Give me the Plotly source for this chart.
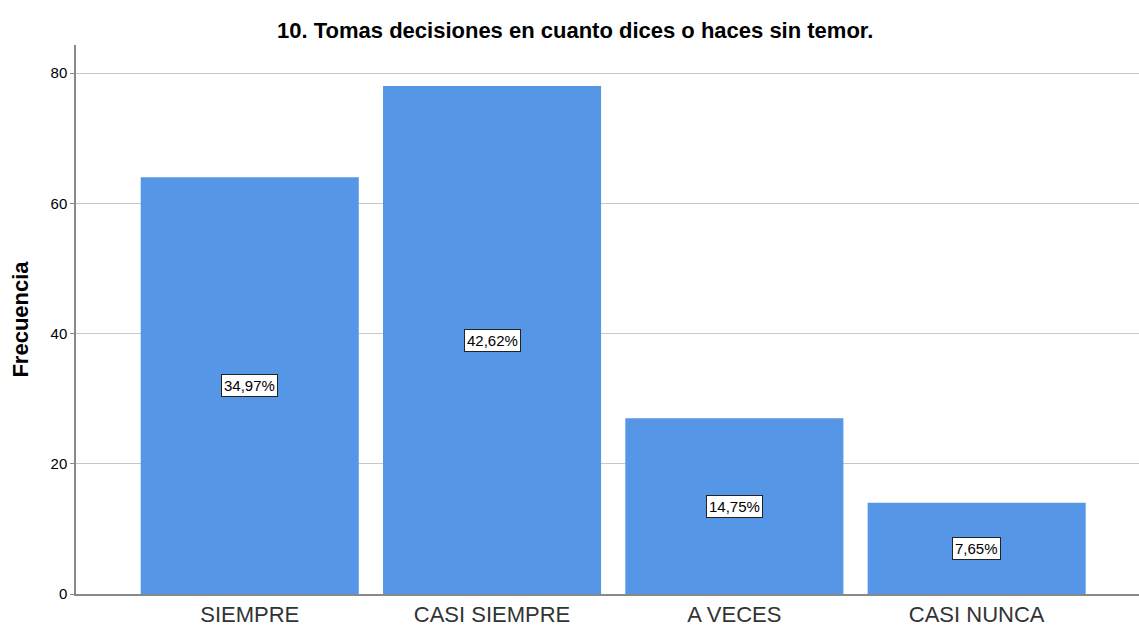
import plotly.graph_objects as go

categories = ["SIEMPRE", "CASI SIEMPRE", "A VECES", "CASI NUNCA"]
frecuencia = [64, 78, 27, 14]
porcentajes = ["34,97%", "42,62%", "14,75%", "7,65%"]

bar_color = "#5596E6"
font_family = "Arial, Liberation Sans"

fig = go.Figure()
fig.add_trace(go.Bar(
    x=list(range(len(categories))),
    y=frecuencia,
    width=0.9,
    marker=dict(color=bar_color, line=dict(width=0)),
    hoverinfo="skip",
))

# Percentage labels boxed at the middle of each bar
for i, (v, p) in enumerate(zip(frecuencia, porcentajes)):
    fig.add_annotation(
        x=i, y=v / 2, text=p, showarrow=False,
        font=dict(family=font_family, size=15, color="#000000"),
        bgcolor="#FFFFFF", bordercolor="#222222", borderwidth=1, borderpad=2,
    )

fig.update_layout(
    width=1139, height=626,
    margin=dict(l=76, r=0, t=45, b=32),
    plot_bgcolor="#FFFFFF", paper_bgcolor="#FFFFFF",
    showlegend=False,
    title=dict(
        text="<b>10. Tomas decisiones en cuanto dices o haces sin temor.</b>",
        x=0.505, xanchor="center", xref="container", y=0.952, yanchor="middle",
        font=dict(family=font_family, size=22, color="#000000"),
    ),
    xaxis=dict(
        range=[-0.717, 3.67],
        tickmode="array", tickvals=list(range(len(categories))), ticktext=categories,
        showgrid=False, showline=True, linecolor="#888888", linewidth=1.5,
        ticks="", tickfont=dict(family=font_family, size=22, color="#333333"),
        zeroline=False,
    ),
    yaxis=dict(
        range=[0, 84.3],
        tickvals=[0, 20, 40, 60, 80],
        showgrid=True, gridcolor="#C8C8C8", gridwidth=1,
        showline=True, linecolor="#888888", linewidth=1.5,
        ticks="outside", ticklen=4, tickcolor="#888888",
        tickfont=dict(family=font_family, size=15, color="#000000"),
        zeroline=False,
        title=dict(text="<b>Frecuencia</b>", standoff=16,
                   font=dict(family=font_family, size=22, color="#000000")),
    ),
)

fig.write_html("out.html")
